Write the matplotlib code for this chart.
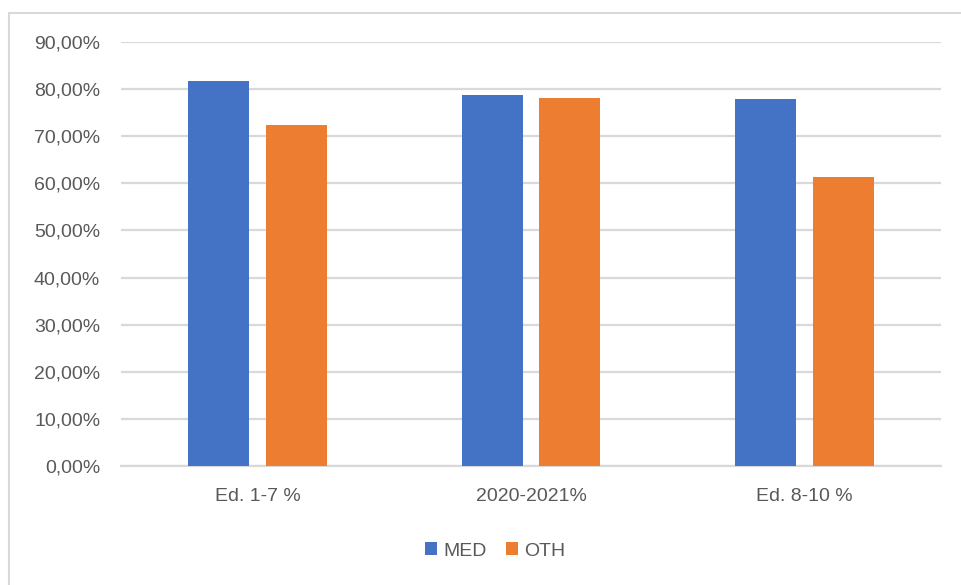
import numpy as np
import matplotlib.pyplot as plt
from matplotlib.patches import Rectangle
from matplotlib.ticker import FuncFormatter

plt.rcParams['font.family'] = ['Liberation Sans', 'DejaVu Sans']

categories = ['Ed. 1-7 %', '2020-2021%', 'Ed. 8-10 %']
med = [0.817, 0.788, 0.779]
oth = [0.724, 0.781, 0.614]

blue = '#4472c4'
orange = '#ed7d31'
grey_txt = '#595959'
grey_line = '#d9d9d9'

fig = plt.figure(figsize=(9.61, 5.85), dpi=100)
ax = fig.add_axes([121/961, 119/585, 820/961, (466-42)/585])

x = np.arange(len(categories))
w = 0.223
off = 0.142
ax.bar(x - off, med, w, color=blue, label='MED', zorder=3)
ax.bar(x + off, oth, w, color=orange, label='OTH', zorder=3)

ax.set_xlim(-0.5, 2.5)
ax.set_ylim(0, 0.9)
ax.set_yticks(np.arange(0, 0.91, 0.1))
ax.yaxis.set_major_formatter(FuncFormatter(lambda v, p: f'{v*100:.2f}%'.replace('.', ',')))
ax.set_xticks(x)
ax.set_xticklabels(categories)

ax.grid(axis='y', color=grey_line, linewidth=1.6, zorder=0)
for s in ['top', 'right', 'left']:
    ax.spines[s].set_visible(False)
ax.spines['bottom'].set_color(grey_line)
ax.spines['bottom'].set_linewidth(1.6)
ax.tick_params(axis='both', length=0, labelsize=14, colors=grey_txt)
ax.tick_params(axis='y', pad=15)
ax.tick_params(axis='x', pad=16)

leg = fig.legend(loc='center', bbox_to_anchor=(495/961, 1 - 551/585), ncol=2,
                 frameon=False, fontsize=14, handlelength=0.65, handleheight=0.65,
                 handletextpad=0.3, columnspacing=1.0)
for t in leg.get_texts():
    t.set_color(grey_txt)

fig.patches.append(Rectangle((8.5/961, -0.1), 1.2, 0.1 + (585-12.5)/585,
                             transform=fig.transFigure, fill=False,
                             edgecolor=grey_line, linewidth=1.5))

fig.savefig('out.png', dpi=100)
